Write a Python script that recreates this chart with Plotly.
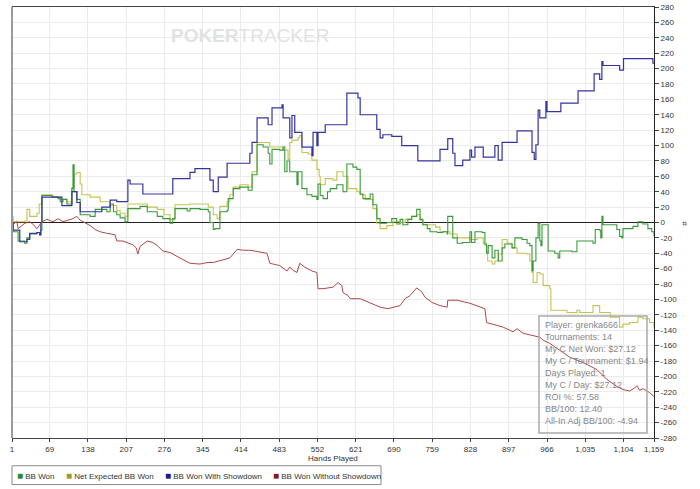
import plotly.graph_objects as go

# ---------------- data ----------------
x_tick_vals = [1, 69, 138, 207, 276, 345, 414, 483, 552, 621, 690, 759, 828, 897, 966, 1035, 1104, 1159]
x_tick_text = ["1", "69", "138", "207", "276", "345", "414", "483", "552", "621", "690", "759", "828", "897",
               "966", "1,035", "1,104", "1,159"]
y_tick_vals = list(range(-280, 281, 20))
y_tick_text = [str(v) for v in y_tick_vals]

# BB Won With Showdown (blue)
sd_hands = [1, 3, 15, 28, 33, 46, 51, 53, 55, 91, 109, 118, 124, 163, 178, 190, 210, 214, 237, 291,
            322, 331, 358, 364, 373, 389, 430, 434, 443, 463, 470, 488, 490, 502, 506, 511, 524, 542, 544, 551,
            553, 566, 605, 625, 629, 659, 665, 670, 686, 704, 733, 773, 787, 796, 800, 814, 827, 830, 836, 851,
            872, 878, 885, 912, 939, 943, 946, 950, 953, 964, 966, 991, 1022, 1051, 1061, 1063, 1065, 1067,
            1097, 1104, 1157, 1159]
sd_vals = [0, -10, -25, -22, -14, -13, -16, 0, 33, 22, 40, 26, 14, 20, 29, 27, 55, 50, 37, 57,
           65, 70, 55, 40, 59, 77, 90, 104, 136, 127, 149, 153, 136, 110, 139, 117, 98, 87, 117, 100,
           117, 127, 168, 162, 140, 121, 110, 114, 112, 100, 80, 95, 109, 90, 74, 81, 94, 85, 98, 85,
           100, 81, 104, 119, 91, 82, 101, 146, 136, 157, 144, 155, 171, 193, 186, 186, 209, 204,
           198, 213, 207, 207]

# BB Won (green)
won_hands = [1, 3, 12, 24, 28, 33, 46, 51, 53, 55, 73, 84, 88, 93, 100, 109, 111, 113, 118, 124,
             142, 151, 163, 172, 178, 184, 190, 196, 205, 210, 232, 245, 263, 273, 286, 291, 295, 317, 322, 340,
             355, 358, 364, 367, 376, 389, 391, 400, 412, 427, 434, 443, 454, 463, 466, 470, 484, 490, 493, 497,
             502, 515, 517, 524, 533, 542, 551, 553, 557, 562, 570, 575, 587, 598, 605, 616, 623, 629, 634, 647,
             652, 659, 665, 677, 686, 695, 701, 706, 715, 722, 731, 737, 742, 750, 755, 768, 778, 786, 787, 795,
             796, 804, 814, 827, 830, 836, 849, 854, 857, 860, 867, 872, 878, 885, 890, 903, 908, 921, 930, 935,
             939, 941, 946, 950, 953, 955, 957, 964, 968, 980, 986, 989, 1011, 1020, 1049, 1053, 1061, 1063, 1065,
             1067, 1092, 1097, 1101, 1103, 1121, 1130, 1139, 1148, 1155, 1159]
won_vals = [0, -12, -24, -27, -20, -15, -13, -16, -10, 35, 33, 31, 27, 30, 24, 44, 75, 40, 30, 10,
            8, 17, 17, 14, 24, 14, 10, 6, 1, 18, 21, 14, 8, 5, -1, 5, 18, 15, 18, 17,
            14, 0, -9, -8, 14, 16, 31, 44, 46, 42, 62, 101, 98, 90, 76, 95, 94, 98, 66, 80,
            66, 49, 66, 44, 36, 34, 30, 50, 35, 31, 40, 44, 49, 40, 76, 72, 69, 37, 31, 37,
            23, 5, -1, 0, 5, -2, 4, -3, 4, 8, 17, 4, -3, -8, -12, -13, -12, -15, 8, 8,
            -20, -27, -26, -12, -26, -12, -13, -29, -40, -30, -46, -36, -50, -33, -28, -33, -20, -22, -27, -30,
            -63, -50, -20, -1, -24, -30, -3, -3, -37, -40, -46, -37, -38, -24, -27, -9, -10, -20, 8,
            -3, -9, -18, -20, -8, -5, 1, -2, -8, -12, -18]

# Net Expected BB Won (olive)
ev_hands = [1, 3, 24, 28, 33, 46, 50, 55, 75, 88, 100, 109, 113, 118, 124, 127, 142, 160, 178, 190,
            196, 205, 210, 235, 245, 263, 275, 286, 295, 322, 340, 355, 364, 371, 376, 389, 394, 400, 412, 427,
            434, 443, 466, 490, 499, 502, 506, 517, 520, 524, 535, 542, 551, 555, 557, 566, 580, 587, 598, 607,
            623, 629, 638, 652, 659, 665, 677, 688, 701, 710, 722, 731, 737, 742, 755, 765, 773, 791, 804, 827,
            840, 851, 857, 859, 867, 872, 878, 885, 894, 903, 912, 930, 935, 939, 941, 948, 953, 959, 971, 973,
            995, 1002, 1020, 1025, 1049, 1058, 1061, 1080, 1097, 1103, 1115, 1130, 1139, 1151, 1159]
ev_vals = [8, 1, 2, 17, 8, 12, 24, 36, 33, 30, 27, 45, 63, 65, 50, 36, 33, 27, 22, 16,
           12, 8, 24, 24, 20, 17, 10, 4, 23, 24, 24, 20, 10, 5, 21, 27, 36, 46, 49, 46,
           66, 104, 98, 94, 82, 104, 107, 110, 113, 91, 89, 81, 69, 60, 49, 57, 55, 66, 60, 44,
           40, 36, 30, 18, -1, -8, -4, 1, 0, 4, 8, 10, 3, -3, -3, -6, -12, -15, -20, -22,
           -20, -27, -37, -50, -54, -50, -41, -22, -27, -33, -40, -41, -50, -65, -78, -65, -67, -82, -86, -114,
           -114, -117, -114, -117, -108, -108, -117, -123, -136, -132, -130, -123, -125, -130, -136]

# BB Won Without Showdown (red)
nsd_hands = [1, 10, 12, 24, 33, 40, 46, 55, 64, 75, 84, 93, 111, 118, 124, 136, 142, 151, 160, 172,
             187, 190, 201, 219, 225, 228, 232, 245, 255, 263, 273, 286, 304, 322, 340, 353, 364, 376, 394, 407,
             418, 430, 443, 461, 466, 484, 497, 502, 508, 515, 520, 529, 542, 551, 553, 562, 580, 589, 596, 598,
             607, 611, 629, 647, 665, 679, 692, 701, 710, 719, 731, 740, 746, 759, 773, 786, 787, 804, 827, 854,
             857, 869, 887, 899, 905, 912, 923, 935, 953, 959, 971, 989, 1007, 1031, 1056, 1074, 1092, 1103, 1115,
             1124, 1128, 1133, 1139, 1151, 1159]
nsd_vals = [-3, 1, -8, -1, 1, -3, -8, 1, 4, 1, 5, 1, 5, 8, 3, -1, -4, -9, -12, -14,
            -16, -24, -24, -29, -33, -41, -31, -24, -26, -30, -37, -39, -46, -53, -54, -52, -52, -50, -46, -35,
            -36, -36, -38, -40, -53, -56, -63, -58, -62, -65, -53, -58, -63, -65, -86, -86, -84, -78, -82, -91,
            -95, -99, -99, -105, -110, -112, -110, -108, -99, -95, -85, -90, -97, -104, -108, -110, -101, -101, -105, -112,
            -130, -132, -136, -140, -142, -138, -144, -146, -149, -153, -157, -166, -175, -182, -191, -204, -213, -217, -219,
            -215, -212, -218, -216, -221, -226]

series_names = ["BB Won", "Net Expected BB Won", "BB Won With Showdown", "BB Won Without Showdown"]
line_colors = ["#3a9a3a", "#c4c452", "#3434a0", "#b04848"]
legend_colors = ["#2a8a2a", "#9a9a30", "#1a1a8a", "#8a1a1a"]

stats_lines = ["Player: grenka666", "Tournaments: 14", "My C Net Won: $27.12", "My C / Tournament: $1.94",
               "Days Played: 1", "My C / Day: $27.12", "ROI %: 57.58", "BB/100: 12.40",
               "All-In Adj BB/100: -4.94"]

# ---------------- figure ----------------
fig = go.Figure()
fig.add_trace(go.Scatter(x=ev_hands, y=ev_vals, mode="lines", line=dict(color=line_colors[1], width=1.1, shape="hv"),
                         name=series_names[1]))
fig.add_trace(go.Scatter(x=won_hands, y=won_vals, mode="lines", line=dict(color=line_colors[0], width=1.1, shape="hv"),
                         name=series_names[0]))
fig.add_trace(go.Scatter(x=sd_hands, y=sd_vals, mode="lines", line=dict(color=line_colors[2], width=1.2, shape="hv"),
                         name=series_names[2]))
fig.add_trace(go.Scatter(x=nsd_hands, y=nsd_vals, mode="lines", line=dict(color=line_colors[3], width=1.0),
                         name=series_names[3]))

FONT = "Liberation Sans, Arial, sans-serif"
fig.update_layout(
    width=700, height=489,
    margin=dict(l=12, r=46, t=3, b=51),
    paper_bgcolor="white", plot_bgcolor="white",
    showlegend=False,
    font=dict(family=FONT, size=8, color="#333"),
    xaxis=dict(range=[1, 1159], tickvals=x_tick_vals, ticktext=x_tick_text, showgrid=True,
               gridcolor="#ebebeb", gridwidth=1, zeroline=False, showline=True, linecolor="#444",
               linewidth=1, mirror=True, ticks="outside", ticklen=3, tickcolor="#444",
               tickfont=dict(size=8, color="#333"), ticklabeloverflow="allow"),
    yaxis=dict(range=[-280, 280], side="right", tickvals=y_tick_vals, ticktext=y_tick_text, showgrid=True,
               gridcolor="#ebebeb", gridwidth=1, zeroline=True, zerolinecolor="#222", zerolinewidth=1,
               showline=True, linecolor="#222", linewidth=1, ticks="outside", ticklen=4, tickcolor="#444",
               tickfont=dict(size=8, color="#333"), ticklabeloverflow="allow"),
)

# left border (grey)
fig.add_shape(type="line", xref="paper", yref="paper", x0=0, x1=0, y0=0, y1=1,
              line=dict(color="#9a9a9a", width=2))

# watermark
fig.add_annotation(xref="paper", yref="paper", x=0.3707, y=0.9345, xanchor="center", yanchor="middle",
                   showarrow=False, text="<b>POKER</b>TRACKER",
                   font=dict(size=19, color="#e2e2e2", family=FONT))

# axis titles
fig.add_annotation(xref="paper", yref="paper", x=0.5, y=-0.0483, xanchor="center", yanchor="middle",
                   showarrow=False, text="Hands Played", font=dict(size=8, color="#333"))
fig.add_annotation(xref="paper", yref="paper", x=1.048, y=0.4989, xanchor="center", yanchor="middle",
                   showarrow=False, textangle=-90, text="#", font=dict(size=8, color="#333"))

# legend box (manual)
fig.add_shape(type="rect", xref="paper", yref="paper", x0=0.0, x1=0.5748, y0=-0.108, y1=-0.0644,
              line=dict(color="#8a8a8a", width=1), fillcolor="white")
legend_x = [0.0045, 0.0808, 0.235, 0.4032]
for i, lx in enumerate(legend_x):
    fig.add_annotation(xref="paper", yref="paper", x=lx, y=-0.0862, xanchor="left", yanchor="middle",
                       showarrow=False,
                       text=f"<span style='color:{legend_colors[i]};font-size:10px'>■</span> {series_names[i]}",
                       font=dict(size=8, color="#333"))

# stats box
fig.add_shape(type="rect", xref="paper", yref="paper", x0=0.8209, x1=0.9891, y0=0.0115, y1=0.2828,
              line=dict(color="#aaaaaa", width=1.5), fillcolor="rgba(255,255,255,0)")
for k, s in enumerate(stats_lines):
    py = 324 + 12.1 * k
    fig.add_annotation(xref="paper", yref="paper", x=0.8271, y=(438 - py) / 435, xanchor="left",
                       yanchor="middle", showarrow=False, text=s,
                       font=dict(size=9, color="#888"))

fig.write_html("out.html")
